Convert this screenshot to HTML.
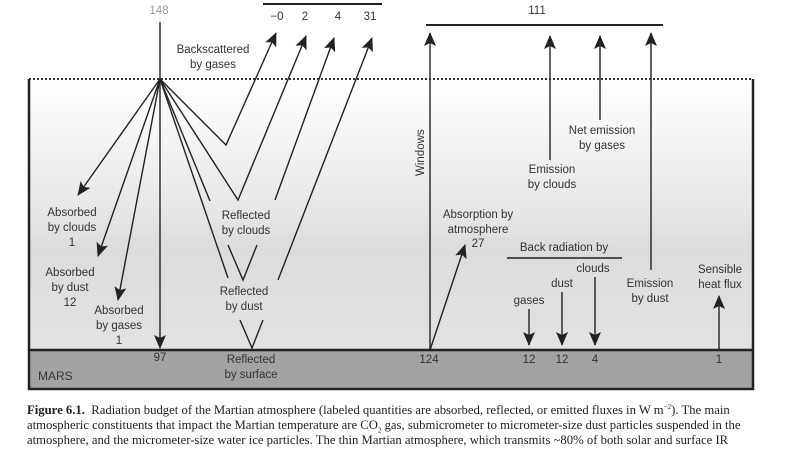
<!DOCTYPE html>
<html><head><meta charset="utf-8"><style>
body{margin:0;width:800px;height:450px;overflow:hidden;background:#fff;font-family:"Liberation Sans",sans-serif}
.cap{position:absolute;left:27px;top:403px;white-space:nowrap;font:12.7px/15px "Liberation Serif",serif;color:#222}
</style></head><body>
<svg width="800" height="450" style="position:absolute;left:0;top:0" font-family="Liberation Sans, sans-serif" font-size="11.5" fill="#333">
<defs>
<linearGradient id="g" x1="0" y1="0" x2="0" y2="1">
<stop offset="0" stop-color="#fff"/><stop offset="0.5" stop-color="#e6e6e6"/><stop offset="0.62" stop-color="#dcdcdc"/><stop offset="1" stop-color="#e2e2e2"/></linearGradient>
<marker id="a" markerWidth="14" markerHeight="12" refX="13" refY="6" orient="auto" markerUnits="userSpaceOnUse"><path d="M0,0L14,6L0,12L3,6z" fill="#222"/></marker>
</defs>
<rect x="29" y="79" width="724" height="271" fill="url(#g)"/>
<rect x="29" y="350" width="724" height="39" fill="#a3a3a3"/>
<path d="M29,79V389H753V79M29,350H753" stroke="#222" stroke-width="2.5" fill="none"/>
<line x1="29" y1="79" x2="753" y2="79" stroke="#333" stroke-width="2" stroke-dasharray="2,2"/>
<g stroke="#222" stroke-width="1.4" fill="none">
<line x1="263" y1="4" x2="382" y2="4" stroke-width="2"/>
<line x1="426" y1="25" x2="663" y2="25" stroke-width="2"/>
<line x1="160" y1="22" x2="160" y2="348" marker-end="url(#a)"/>
<line x1="160" y1="79" x2="78" y2="195" marker-end="url(#a)"/>
<line x1="160" y1="79" x2="98" y2="256" marker-end="url(#a)"/>
<line x1="160" y1="79" x2="118" y2="300" marker-end="url(#a)"/>
<path d="M160,79L226,145L276,33" marker-end="url(#a)"/>
<path d="M160,79L238,200L306,36" marker-end="url(#a)"/>
<line x1="160" y1="79" x2="210" y2="201"/>
<line x1="160" y1="79" x2="228" y2="278"/>
<line x1="275" y1="200" x2="334" y2="38" marker-end="url(#a)"/>
<line x1="278" y1="280" x2="372" y2="38" marker-end="url(#a)"/>
<path d="M228,245L243,280L257,245"/>
<path d="M240,320L252,348L263,320"/>
<line x1="430" y1="350" x2="430" y2="33" marker-end="url(#a)"/>
<line x1="550" y1="160" x2="550" y2="36" marker-end="url(#a)"/>
<line x1="600" y1="120" x2="600" y2="36" marker-end="url(#a)"/>
<line x1="651" y1="270" x2="651" y2="33" marker-end="url(#a)"/>
<line x1="430" y1="350" x2="465" y2="245" marker-end="url(#a)"/>
<line x1="507" y1="258" x2="622" y2="258" stroke-width="1.6"/>
<line x1="529" y1="309" x2="529" y2="345" marker-end="url(#a)"/>
<line x1="562" y1="292" x2="562" y2="345" marker-end="url(#a)"/>
<line x1="595" y1="277" x2="595" y2="345" marker-end="url(#a)"/>
<line x1="719" y1="350" x2="719" y2="296" marker-end="url(#a)"/>
</g>
<g text-anchor="middle">
<text x="159" y="14" fill="#999">148</text>
<text x="277" y="20">−0</text><text x="305" y="20">2</text><text x="338" y="20">4</text><text x="370" y="20">31</text>
<text x="537" y="14">111</text>
<text x="213" y="53">Backscattered</text><text x="213" y="68">by gases</text>
<text x="72" y="216">Absorbed</text><text x="72" y="231">by clouds</text><text x="72" y="246">1</text>
<text x="70" y="276">Absorbed</text><text x="70" y="291">by dust</text><text x="70" y="306">12</text>
<text x="119" y="314">Absorbed</text><text x="119" y="329">by gases</text><text x="119" y="344">1</text>
<text x="246" y="219">Reflected</text><text x="246" y="234">by clouds</text>
<text x="244" y="295">Reflected</text><text x="244" y="310">by dust</text>
<text x="251" y="363">Reflected</text><text x="251" y="378">by surface</text>
<text x="160" y="361">97</text>
<text x="602" y="134">Net emission</text><text x="602" y="149">by gases</text>
<text x="552" y="173">Emission</text><text x="552" y="188">by clouds</text>
<text x="478" y="218">Absorption by</text><text x="478" y="233">atmosphere</text><text x="478" y="247">27</text>
<text x="564" y="251">Back radiation by</text>
<text x="593" y="272">clouds</text><text x="562" y="287">dust</text><text x="529" y="304">gases</text>
<text x="650" y="287">Emission</text><text x="650" y="302">by dust</text>
<text x="720" y="273">Sensible</text><text x="720" y="288">heat flux</text>
<text x="429" y="363">124</text><text x="529" y="363">12</text><text x="562" y="363">12</text><text x="595" y="363">4</text><text x="719" y="363">1</text>
</g>
<text x="38" y="380" font-size="12">MARS</text>
<text transform="translate(424,176) rotate(-90)" font-size="11.5">Windows</text>
</svg>
<div class="cap"><b>Figure 6.1.</b>&nbsp; Radiation budget of the Martian atmosphere (labeled quantities are absorbed, reflected, or emitted fluxes in W m<sup style="font-size:7px;line-height:0">−2</sup>). The main<br>atmospheric constituents that impact the Martian temperature are CO<sub style="font-size:7px;line-height:0">2</sub> gas, submicrometer to micrometer-size dust particles suspended in the<br>atmosphere, and the micrometer-size water ice particles. The thin Martian atmosphere, which transmits ~80% of both solar and surface IR</div>
</body></html>
